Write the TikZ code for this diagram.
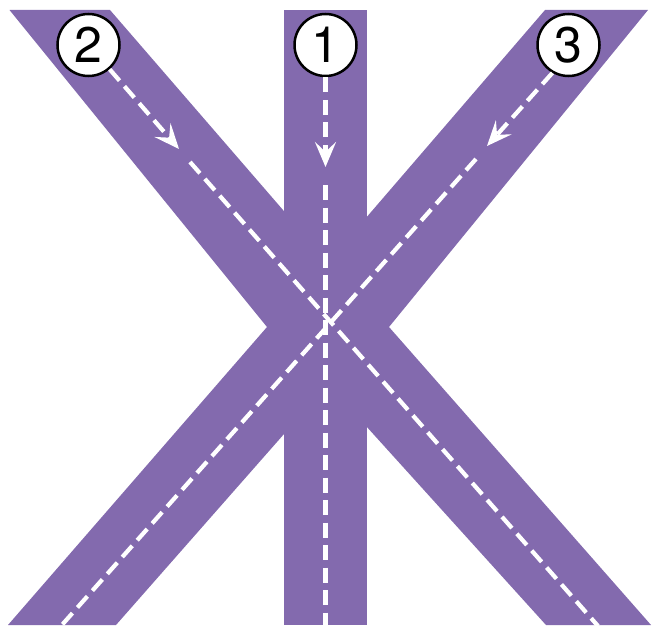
\documentclass[tikz,border=0pt]{standalone}
\usepackage{fontspec}
\setmainfont{TeX Gyre Heros}
\usetikzlibrary{arrows.meta}
\definecolor{lilac}{RGB}{131,106,174}
\tikzset{
  road/.style={fill=lilac,draw=none},
  lane/.style={draw=white,line width=4.2pt,dash pattern=on 15pt off 7.5pt},
  fl/.style={-{Stealth[length=25pt,width=21pt,inset=10pt]}},
  num/.style={circle,draw=black,line width=2.5pt,fill=white,minimum size=62pt,
    inner sep=0pt,font=\fontsize{50}{50}\selectfont},
}

\begin{document}
\begin{tikzpicture}[x=1pt,y=-1pt]
  \useasboundingbox (0,0) rectangle (652,626);
  % roads
  \fill[road] (284,10) rectangle (367,625);
  \fill[road] (9.5,10) -- (110,10) -- (328,262) -- (545,10) -- (648,10)
    -- (389,327) -- (651,625) -- (546,625) -- (328,384) -- (116,625)
    -- (8,625) -- (267,327) -- cycle;
  % numbers
  \node[num] (c1) at (325.5,45) {1};
  \node[num] (c2) at (88.5,45) {2};
  \node[num] (c3) at (568.5,45) {3};
  % lane points
  \coordinate (a1) at (325.5,167);
  \coordinate (b1) at (325.5,185);
  \coordinate (e1) at (325.5,626);
  \coordinate (a2) at (179,149);
  \coordinate (b2) at (190,162);
  \coordinate (e2) at (598,626);
  \coordinate (a3) at (487,146);
  \coordinate (b3) at (476,159);
  \coordinate (e3) at (61,626);
  % lanes
  \draw[lane,fl] (c1) -- (a1);
  \draw[lane] (b1) -- (e1);
  \draw[lane,fl] (c2) -- (a2);
  \draw[lane] (b2) -- (e2);
  \draw[lane,fl] (c3.240) -- (a3);
  \draw[lane] (b3) -- (e3);
\end{tikzpicture}
\end{document}
